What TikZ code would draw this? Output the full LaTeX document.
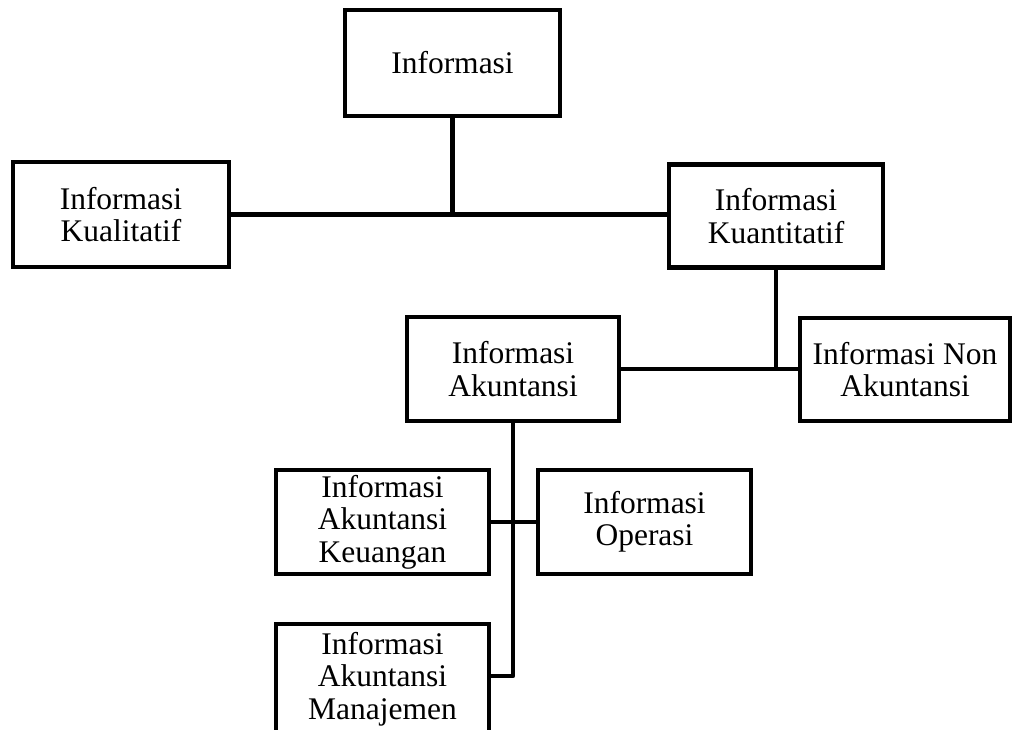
\documentclass[tikz,border=0pt]{standalone}
\usepackage{fontspec}
\setmainfont{Liberation Serif}
\begin{document}
\begin{tikzpicture}[x=1pt,y=-1pt,
  box/.style={draw=black, line width=4.5pt, rectangle, inner sep=0pt, align=center,
    font=\fontsize{31.5}{32.5}\selectfont, minimum width=213pt, minimum height=104pt},
  conn/.style={draw=black, line width=4.5pt}]
\useasboundingbox (0,0) rectangle (1014,729);
\node[box, minimum width=215pt, minimum height=106pt] (inf) at (452.5,63) {Informasi};
\node[box, minimum width=216pt, minimum height=105pt] (kual) at (121,214.5) {Informasi\\Kualitatif};
\node[box, minimum width=214pt, minimum height=103pt] (kuan) at (776,216) {Informasi\\Kuantitatif};
\node[box, minimum width=212pt, minimum height=104pt] (akt) at (513,369) {Informasi\\Akuntansi};
\node[box, minimum width=210pt, minimum height=103pt] (non) at (905,369.5) {Informasi Non\\Akuntansi};
\node[box] (keu) at (382.5,522) {Informasi\\Akuntansi\\Keuangan};
\node[box] (ops) at (644.5,522) {Informasi\\Operasi};
\node[box, minimum height=110pt] (man) at (382.5,679) {Informasi\\Akuntansi\\Manajemen};
\coordinate (j1) at (inf.south |- kual.east);
\coordinate (j2) at (kuan.south |- akt.east);
\coordinate (j3) at (akt.south |- 0,676);
\draw[conn] (kual.east) -- (kual.east -| kuan.west);
\draw[conn] (inf.south) -- (j1);
\draw[conn] (akt.east) -- (akt.east -| non.west);
\draw[conn] (kuan.south) -- (j2);
\draw[conn] (keu.east) -- (ops.west);
\draw[conn, line join=round] (akt.south) -- (j3) -- (j3 -| man.east);
\end{tikzpicture}
\end{document}
